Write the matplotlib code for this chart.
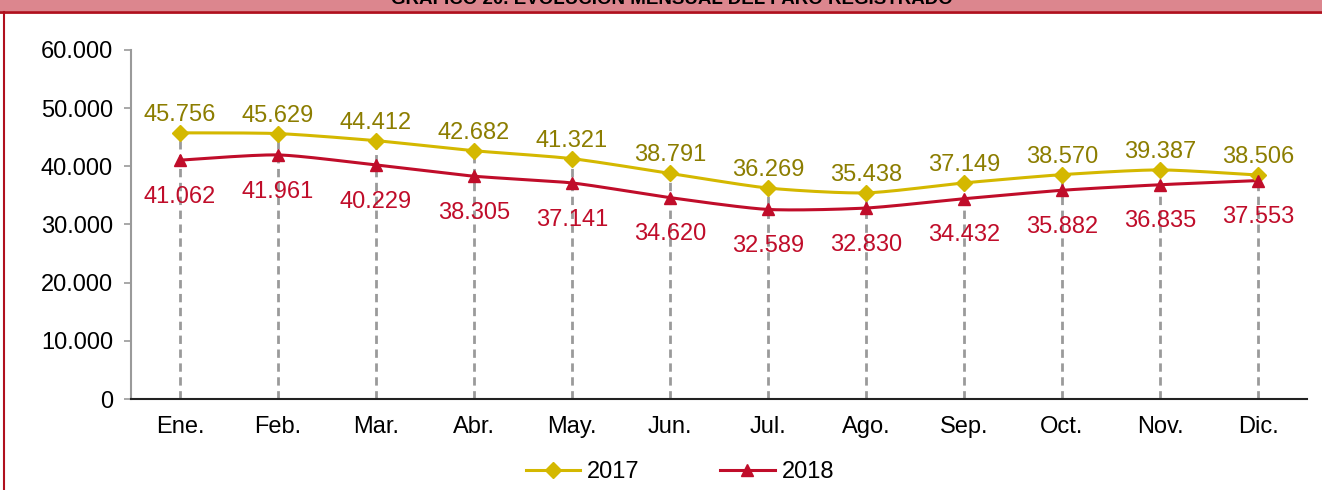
import numpy as np
import matplotlib
matplotlib.use("Agg")
import matplotlib.pyplot as plt
from matplotlib.lines import Line2D
from matplotlib.patches import Rectangle

plt.rcParams['font.family'] = ['Liberation Sans', 'DejaVu Sans']

# data
months = ['Ene.', 'Feb.', 'Mar.', 'Abr.', 'May.', 'Jun.',
          'Jul.', 'Ago.', 'Sep.', 'Oct.', 'Nov.', 'Dic.']
paro_2017 = [45756, 45629, 44412, 42682, 41321, 38791,
             36269, 35438, 37149, 38570, 39387, 38506]
paro_2018 = [41062, 41961, 40229, 38305, 37141, 34620,
             32589, 32830, 34432, 35882, 36835, 37553]
y_ticks = [0, 10000, 20000, 30000, 40000, 50000, 60000]
title = 'GRÁFICO 20. EVOLUCIÓN MENSUAL DEL PARO REGISTRADO'

C17 = '#D4B800'
C17_TXT = '#8C7D00'
C18 = '#C00D2A'
GRAY = '#9A9A9A'
FS = 17


def fmt(v):
    return f'{v:,}'.replace(',', '.')


# smooth curve through the points (Catmull-Rom, like Excel's smoothed line)
def smooth(x, y, n=30):
    x = np.asarray(x, float)
    y = np.asarray(y, float)
    px = np.concatenate([[x[0]], x, [x[-1]]])
    py = np.concatenate([[y[0]], y, [y[-1]]])
    xs, ys = [], []
    t = np.linspace(0, 1, n)
    for i in range(1, len(px) - 2):
        p0, p1, p2, p3 = py[i - 1], py[i], py[i + 1], py[i + 2]
        q0, q1, q2, q3 = px[i - 1], px[i], px[i + 1], px[i + 2]
        h00 = 2 * t**3 - 3 * t**2 + 1
        h10 = t**3 - 2 * t**2 + t
        h01 = -2 * t**3 + 3 * t**2
        h11 = t**3 - t**2
        m1y, m2y = (p2 - p0) / 2 * 0.7, (p3 - p1) / 2 * 0.7
        m1x, m2x = (q2 - q0) / 2 * 0.7, (q3 - q1) / 2 * 0.7
        xs.append(h00 * q1 + h10 * m1x + h01 * q2 + h11 * m2x)
        ys.append(h00 * p1 + h10 * m1y + h01 * p2 + h11 * m2y)
    return np.concatenate(xs), np.concatenate(ys)


fig = plt.figure(figsize=(13.22, 4.90), dpi=100)
ax = fig.add_axes([131 / 1322, 1 - 399 / 490, (1307 - 131) / 1322, (399 - 50) / 490])

x = np.arange(len(months))

# drop lines
for xi, a, b in zip(x, paro_2017, paro_2018):
    ax.plot([xi, xi], [0, max(a, b)], color=GRAY, lw=2, ls=(0, (3, 2)), zorder=1)

sx, sy = smooth(x, paro_2017)
ax.plot(sx, sy, color=C17, lw=2.2, zorder=3)
ax.plot(x, paro_2017, ls='none', marker='D', ms=8, color=C17, zorder=4)
sx, sy = smooth(x, paro_2018)
ax.plot(sx, sy, color=C18, lw=2.2, zorder=3)
ax.plot(x, paro_2018, ls='none', marker='^', ms=9, color=C18, zorder=4)

for xi, v in zip(x, paro_2017):
    ax.annotate(fmt(v), (xi, v), xytext=(0, 5), textcoords='offset points',
                ha='center', va='bottom', fontsize=FS, color=C17_TXT)
for xi, v in zip(x, paro_2018):
    ax.annotate(fmt(v), (xi, v), xytext=(0, -18.5), textcoords='offset points',
                ha='center', va='top', fontsize=FS, color=C18)

ax.set_xlim(-0.5, len(months) - 0.5)
ax.set_ylim(0, 60000)
ax.set_yticks(y_ticks)
ax.set_yticklabels([fmt(v) for v in y_ticks], fontsize=FS)
ax.set_xticks(x)
ax.set_xticklabels(months, fontsize=FS)
ax.tick_params(axis='x', length=0, pad=12)
ax.tick_params(axis='y', length=5, color=GRAY, width=1.2, pad=8)
for s in ['top', 'right']:
    ax.spines[s].set_visible(False)
ax.spines['left'].set_color(GRAY)
ax.spines['left'].set_linewidth(1.5)
ax.spines['bottom'].set_color('#222222')
ax.spines['bottom'].set_linewidth(1.5)

handles = [Line2D([], [], color=C17, lw=2.2, marker='D', ms=8),
           Line2D([], [], color=C18, lw=2.2, marker='^', ms=9)]
fig.legend(handles, ['2017', '2018'], loc='center', bbox_to_anchor=(680 / 1322, 1 - 472 / 490),
           ncol=2, frameon=False, fontsize=FS, handlelength=2.3, columnspacing=3.4,
           handletextpad=0.3)

# header band and frame (the title sits mostly above the top edge, as in the source)
fig.patches.append(Rectangle((0, 1 - 11 / 490), 1, 11 / 490, transform=fig.transFigure,
                             facecolor='#DC868E', edgecolor='none', zorder=0))
fig.add_artist(Line2D([0, 1], [1 - 12 / 490] * 2, color='#B0101E', lw=2))
fig.add_artist(Line2D([3.5 / 1322] * 2, [0, 1 - 12 / 490], color='#B0101E', lw=1.5))
fig.text(672 / 1322, 1 - 4 / 490, title, ha='center', va='baseline', fontsize=13.5,
         fontweight='bold', color='black', zorder=5)

fig.savefig('out.png', dpi=100)
